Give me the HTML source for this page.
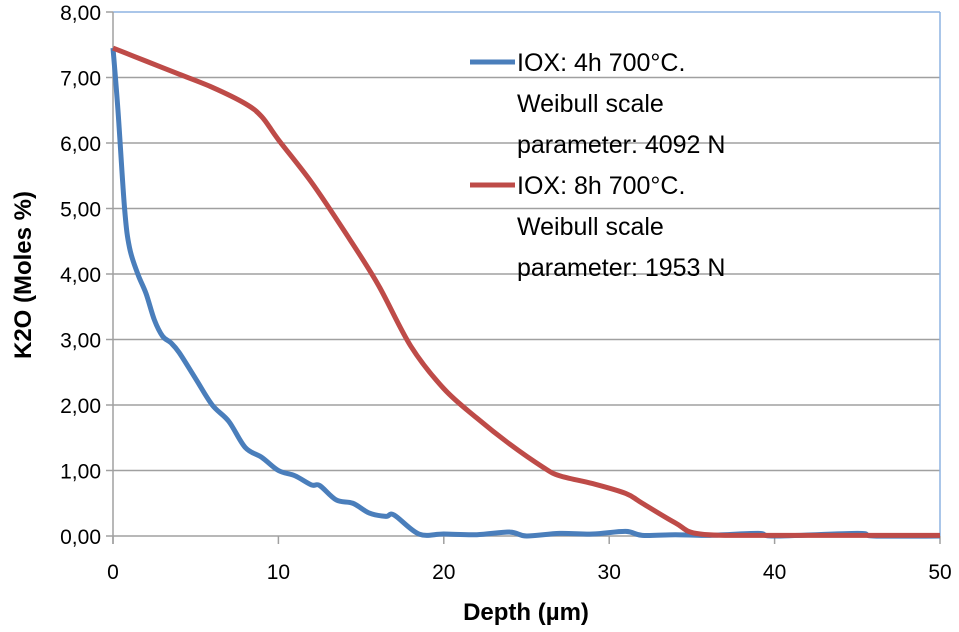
<!DOCTYPE html>
<html><head><meta charset="utf-8"><style>
body{margin:0;background:#fff;}
svg{display:block;font-family:"Liberation Sans",sans-serif;}
</style></head><body>
<svg id="chart" width="959" height="632"></svg>
<script>
const xTicks=[0,10,20,30,40,50];
const yTicks=[0,1,2,3,4,5,6,7,8];
const blueX=[0,0.3,0.7,1,1.5,2,2.5,3,3.5,4,5,6,7,8,9,10,11,12,12.5,13.5,14.5,15.5,16.5,17,18.5,20,22,24,25,27,29,31,32,34,36,39,40,45,46,50];
const blueY=[7.45,6.5,5,4.4,4,3.7,3.3,3.05,2.95,2.8,2.4,2.0,1.75,1.35,1.2,1.0,0.92,0.78,0.77,0.55,0.5,0.35,0.3,0.32,0.03,0.03,0.02,0.06,0.0,0.04,0.03,0.07,0.01,0.02,0.01,0.04,0.0,0.04,0.0,0.0];
const redX=[0,2,4,6,8,9,10,12,14,16,18,20,22,24,26,27,29,31,32,34,35.5,40,50];
const redY=[7.45,7.25,7.05,6.85,6.6,6.4,6.05,5.4,4.65,3.85,2.9,2.25,1.8,1.4,1.05,0.92,0.8,0.65,0.5,0.2,0.03,0.01,0.01];
const PL=113,PR=940,PT=12,PB=536;
const sx=v=>PL+(v/50)*(PR-PL), sy=v=>PB-(v/8)*(PB-PT);
const ns="http://www.w3.org/2000/svg", svgEl=document.getElementById('chart');
function mk(t,a,p){const e=document.createElementNS(ns,t);for(const k in a)e.setAttribute(k,a[k]);(p||svgEl).appendChild(e);return e;}
yTicks.forEach(v=>{
  if(v>0&&v<8){const g=mk('line',{x1:PL,x2:PR,y1:sy(v),y2:sy(v),stroke:'#a0a0a0','stroke-width':1.5});
  
  }
  const tk=mk('line',{x1:PL-7,x2:PL,y1:sy(v),y2:sy(v),stroke:'#a0a0a0','stroke-width':1.5});
  
  
  const t=mk('text',{x:PL-12,y:sy(v)+8,'text-anchor':'end','font-size':21,fill:'#000'});
  t.textContent=v.toFixed(2).replace('.',',');
  
  
});
xTicks.forEach(v=>{
  const tk=mk('line',{x1:sx(v),x2:sx(v),y1:PB,y2:PB+8,stroke:'#a0a0a0','stroke-width':1.5});
  
  
  const t=mk('text',{x:sx(v),y:PB+43,'text-anchor':'middle','font-size':21,fill:'#000'});
  t.textContent=v;
  
  
});
const borderTop=mk('line',{x1:PL,x2:PR,y1:PT,y2:PT,stroke:'#8db3e2','stroke-width':1.5});


const borderRight=mk('line',{x1:PR,x2:PR,y1:PT,y2:PB,stroke:'#8db3e2','stroke-width':1.5});


const yAxisLine=mk('line',{x1:PL,x2:PL,y1:PT,y2:PB+8,stroke:'#a0a0a0','stroke-width':1.5});


const xAxisLine=mk('line',{x1:PL,x2:PR,y1:PB,y2:PB,stroke:'#a0a0a0','stroke-width':1.5});


function smooth(xs,ys){const p=xs.map((x,i)=>[sx(x),sy(ys[i])]);let d='M'+p[0][0]+','+p[0][1];
  for(let i=0;i<p.length-1;i++){const p0=p[i-1]||p[i],p1=p[i],p2=p[i+1],p3=p[i+2]||p2;
    d+=' C'+(p1[0]+(p2[0]-p0[0])/6)+','+(p1[1]+(p2[1]-p0[1])/6)+' '+(p2[0]-(p3[0]-p1[0])/6)+','+(p2[1]-(p3[1]-p1[1])/6)+' '+p2[0]+','+p2[1];}
  return d;}
const blueLine=mk('path',{d:smooth(blueX,blueY),fill:'none',stroke:'#4a7ebb','stroke-width':5,'stroke-linejoin':'round'});


const redLine=mk('path',{d:smooth(redX,redY),fill:'none',stroke:'#be4b48','stroke-width':5,'stroke-linejoin':'round'});


const legendItems=[['#4a7ebb',62,['IOX: 4h 700°C.','Weibull scale','parameter: 4092 N']],['#be4b48',185,['IOX: 8h 700°C.','Weibull scale','parameter: 1953 N']]];
legendItems.forEach((l,i)=>{
  const g=mk('g',{});
  
  
  mk('line',{x1:470,x2:515,y1:l[1],y2:l[1],stroke:l[0],'stroke-width':5},g);
  l[2].forEach((s,j)=>{const t=mk('text',{x:517,y:l[1]+9+j*41,'font-size':25,fill:'#000'},g);t.textContent=s;});
});
const xTitle=mk('text',{x:526,y:620,'text-anchor':'middle','font-size':24,'font-weight':'bold'});
xTitle.textContent='Depth (µm)';


const yTitle=mk('text',{x:0,y:0,'text-anchor':'middle','font-size':24,'font-weight':'bold',transform:'translate(31,275) rotate(-90)'});
yTitle.textContent='K2O (Moles %)';


</script>
</body></html>
